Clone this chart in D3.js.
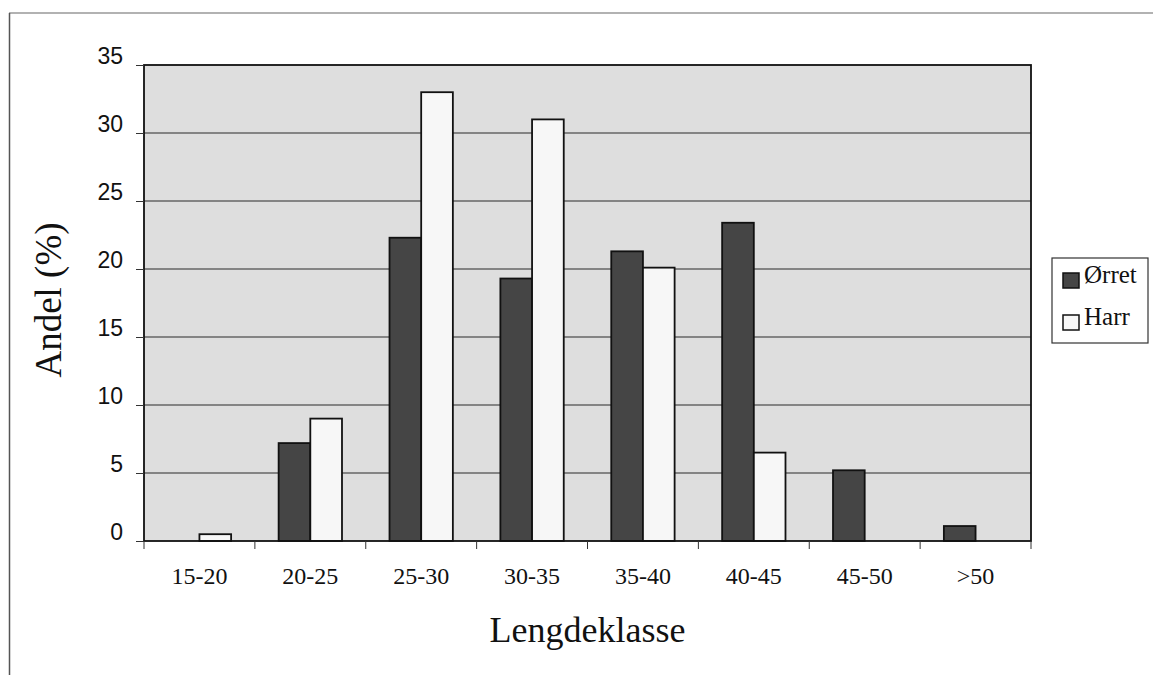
<!DOCTYPE html>
<html>
<head>
<meta charset="utf-8">
<script src="https://cdn.jsdelivr.net/npm/d3@7"></script>
<style>
  html, body { margin: 0; padding: 0; background: #fff; }
  svg { display: block; }
</style>
</head>
<body>
<svg id="chart" width="1153" height="675"></svg>
<script>
const categories = ["15-20", "20-25", "25-30", "30-35", "35-40", "40-45", "45-50", ">50"];
const seriesNames = ["Ørret", "Harr"];
const orretValues = [0, 7.2, 22.3, 19.3, 21.3, 23.4, 5.2, 1.1];
const harrValues = [0.5, 9.0, 33.0, 31.0, 20.1, 6.5, 0, 0];
const yTicks = [0, 5, 10, 15, 20, 25, 30, 35];
const xTitle = "Lengdeklasse";
const yTitle = "Andel (%)";

const svg = d3.select("#chart");
const plot = { left: 144, right: 1031, top: 65, bottom: 541 };

const x = d3.scaleBand().domain(categories).range([plot.left, plot.right]).paddingInner(0).paddingOuter(0);
const y = d3.scaleLinear().domain([0, 35]).range([plot.bottom, plot.top]);
const barW = x.bandwidth() / 3.5;
const inner = d3.scaleBand().domain(seriesNames).range([0, 2 * barW]);

const colors = { "Ørret": "#454545", "Harr": "#f7f7f7" };

// outer frame (scanned partial border)
svg.append("line").attr("x1", 9).attr("x2", 1153).attr("y1", 13).attr("y2", 13)
  .attr("stroke", "#666").attr("stroke-width", 1.2);
svg.append("line").attr("x1", 9.5).attr("x2", 9.5).attr("y1", 13).attr("y2", 675)
  .attr("stroke", "#555").attr("stroke-width", 1.5);

// plot background
svg.append("rect").attr("x", plot.left).attr("y", plot.top)
  .attr("width", plot.right - plot.left).attr("height", plot.bottom - plot.top)
  .attr("fill", "#dedede");

// gridlines
svg.append("g").selectAll("line").data(yTicks.filter(d => d > 0 && d < 35)).join("line")
  .attr("x1", plot.left).attr("x2", plot.right)
  .attr("y1", d => y(d)).attr("y2", d => y(d))
  .attr("stroke", "#2a2a2a").attr("stroke-width", 1.2);

// bars
const data = categories.map((c, i) => ({ cat: c, vals: [
  { s: "Ørret", v: orretValues[i] }, { s: "Harr", v: harrValues[i] }
]}));
const groups = svg.append("g").selectAll("g").data(data).join("g")
  .attr("transform", d => `translate(${x(d.cat) + x.bandwidth() / 2 - barW},0)`);
groups.selectAll("rect").data(d => d.vals.filter(v => v.v > 0)).join("rect")
  .attr("x", d => inner(d.s))
  .attr("y", d => y(d.v))
  .attr("width", inner.bandwidth())
  .attr("height", d => y(0) - y(d.v))
  .attr("fill", d => colors[d.s])
  .attr("stroke", "#111").attr("stroke-width", 1.8);

// plot border
svg.append("rect").attr("x", plot.left).attr("y", plot.top)
  .attr("width", plot.right - plot.left).attr("height", plot.bottom - plot.top)
  .attr("fill", "none").attr("stroke", "#111").attr("stroke-width", 1.8);

// y axis
const yAxis = d3.axisLeft(y).tickValues(yTicks).tickSize(8).tickPadding(13);
const gy = svg.append("g").attr("transform", `translate(${plot.left},0)`).call(yAxis);
gy.select(".domain").remove();
gy.selectAll(".tick line").attr("stroke", "#333").attr("stroke-width", 1);
gy.selectAll(".tick text").attr("font-family", "'Liberation Sans', Arial, sans-serif")
  .attr("font-size", 23).attr("fill", "#111").attr("dy", "-0.08em");

// x axis ticks at category boundaries
const boundaries = categories.map(c => x(c)).concat([plot.right]);
svg.append("g").selectAll("line").data(boundaries).join("line")
  .attr("x1", d => d).attr("x2", d => d)
  .attr("y1", plot.bottom).attr("y2", plot.bottom + 8)
  .attr("stroke", "#333").attr("stroke-width", 1);
svg.append("g").selectAll("text").data(categories).join("text")
  .attr("x", d => x(d) + x.bandwidth() / 2)
  .attr("y", 584)
  .attr("text-anchor", "middle")
  .attr("font-family", "'Liberation Serif', 'Times New Roman', serif")
  .attr("font-size", 24).attr("fill", "#111")
  .text(d => d);

// axis titles
svg.append("text").attr("x", (plot.left + plot.right) / 2).attr("y", 642)
  .attr("text-anchor", "middle")
  .attr("font-family", "'Liberation Serif', 'Times New Roman', serif")
  .attr("font-size", 36).attr("fill", "#111").text(xTitle);
svg.append("text").attr("transform", "translate(61,300) rotate(-90)")
  .attr("text-anchor", "middle")
  .attr("font-family", "'Liberation Serif', 'Times New Roman', serif")
  .attr("font-size", 37).attr("fill", "#111").text(yTitle);

// legend
const lg = svg.append("g");
lg.append("rect").attr("x", 1052).attr("y", 258).attr("width", 96).attr("height", 85)
  .attr("fill", "#fff").attr("stroke", "#333").attr("stroke-width", 1.2);
const legItems = lg.selectAll("g").data(seriesNames).join("g")
  .attr("transform", (d, i) => `translate(1063,${273 + i * 42})`);
legItems.append("rect").attr("width", 16).attr("height", 15)
  .attr("fill", d => colors[d]).attr("stroke", "#111").attr("stroke-width", 1.5);
legItems.append("text").attr("x", 21).attr("y", 10)
  .attr("font-family", "'Liberation Serif', 'Times New Roman', serif")
  .attr("font-size", 25).attr("fill", "#111").text(d => d);
</script>
</body>
</html>
